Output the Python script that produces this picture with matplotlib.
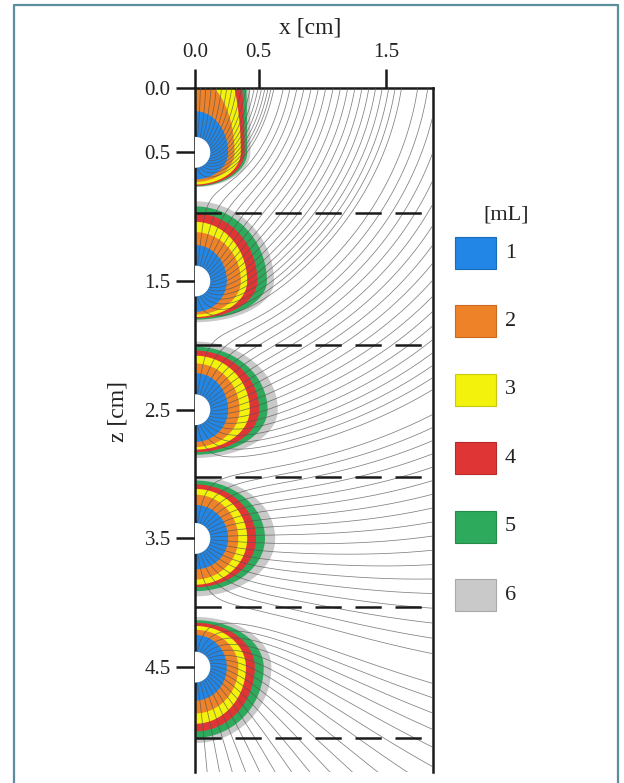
import numpy as np
import matplotlib
matplotlib.use("Agg")
import matplotlib.pyplot as plt
from matplotlib.patches import Polygon, Rectangle, Wedge

plt.rcParams["font.family"] = ["Liberation Serif", "DejaVu Serif"]

# injection points along the left wall (z, cm) and cell boundaries
source_z = [0.5, 1.5, 2.5, 3.5, 4.5]
boundary_z = [0.97, 2.0, 3.02, 4.03, 5.05]

# injected volume per front
volume_labels = ["1", "2", "3", "4", "5", "6"]
volume_colors = ["#2186e6", "#ee8228", "#f2f20c", "#e03535", "#2eaa5c", "#c9c9c9"]
volume_edges = ["#1a6cb8", "#c96a1e", "#c8c810", "#b82a2a", "#238a48", "#a8a8a8"]

# front extent [cm] per source (rows) and volume (columns)
ring_right = [
    [0.26, 0.31, 0.36, 0.39, 0.41, 0.435],
    [0.25, 0.36, 0.41, 0.49, 0.565, 0.62],
    [0.26, 0.35, 0.43, 0.505, 0.57, 0.65],
    [0.26, 0.34, 0.41, 0.48, 0.55, 0.63],
    [0.25, 0.34, 0.40, 0.47, 0.54, 0.60],
]
ring_up = [
    [0.32, 0.57, 0.98, 1.6, 3.0, 4.0],
    [0.28, 0.38, 0.46, 0.525, 0.58, 0.62],
    [0.285, 0.36, 0.42, 0.46, 0.49, 0.53],
    [0.26, 0.34, 0.385, 0.42, 0.45, 0.48],
    [0.25, 0.29, 0.32, 0.345, 0.365, 0.39],
]
ring_down = [
    [0.21, 0.23, 0.25, 0.26, 0.265, 0.27],
    [0.24, 0.26, 0.28, 0.29, 0.30, 0.32],
    [0.25, 0.29, 0.31, 0.33, 0.35, 0.375],
    [0.24, 0.32, 0.36, 0.38, 0.41, 0.45],
    [0.26, 0.36, 0.44, 0.50, 0.55, 0.59],
]

hole_r = 0.12
x_max = 1.87
z_max = 5.315
n_lines = 18
sink_depth = 0.35  # drainage plane sits this far above the surface


def velocity(x, z):
    # line sources on the wall, mirrored as sinks about the drainage plane
    u = np.zeros_like(x)
    w = np.zeros_like(z)
    for zs in source_z:
        for sign, zz in ((1.0, zs), (-1.0, -zs - 2 * sink_depth)):
            dz = z - zz
            r2 = x * x + dz * dz
            u += sign * x / r2
            w += sign * dz / r2
    return u, w


def trace(x0, z0, ds=0.004, nsteps=1800):
    x = np.array(x0, dtype=float)
    z = np.array(z0, dtype=float)
    xs, zs_ = [x.copy()], [z.copy()]
    alive = np.ones_like(x, dtype=bool)
    for _ in range(nsteps):
        u, w = velocity(x, z)
        s = np.hypot(u, w)
        xm = x + 0.5 * ds * u / s
        zm = z + 0.5 * ds * w / s
        u, w = velocity(xm, zm)
        s = np.hypot(u, w)
        x = np.where(alive, x + ds * u / s, np.nan)
        z = np.where(alive, z + ds * w / s, np.nan)
        alive &= (x < x_max + 0.05) & (z > -0.05) & (z < z_max + 0.05)
        xs.append(x.copy())
        zs_.append(z.copy())
    return np.array(xs), np.array(zs_)


def front_outline(zs, right, up, down, n=90):
    phi = np.linspace(0, np.pi / 2, n)
    xu = right * np.cos(phi[::-1])
    zu = zs - up * np.sin(phi[::-1])
    xd = right * np.cos(phi)
    zd = zs + down * np.sin(phi)
    return np.column_stack([np.r_[xu, xd[1:]], np.r_[zu, zd[1:]]])


fig = plt.figure(figsize=(6.24, 7.83), dpi=100)

# frame around the figure
frame = fig.add_axes([0, 0, 1, 1])
frame.set_xlim(0, 624)
frame.set_ylim(783, 0)
frame.axis("off")
frame.plot([14, 14, 618, 618], [790, 5, 5, 790], color="#5b8d9c", lw=1.6)

ax = fig.add_axes([195 / 624, 1 - 772 / 783, (433 - 195) / 624, (772 - 88) / 783])
ax.set_xlim(0, x_max)
ax.set_ylim(z_max, 0)

# wetting fronts, largest volume first
for i, zs in enumerate(source_z):
    for k in range(len(volume_labels) - 1, -1, -1):
        pts = front_outline(zs, ring_right[i][k], ring_up[i][k], ring_down[i][k])
        ax.add_patch(Polygon(pts, closed=True, facecolor=volume_colors[k],
                             edgecolor="none", zorder=2))

# streamlines leaving each injection point
ang = np.linspace(-np.pi / 2, np.pi / 2, n_lines + 2)[1:-1]
x0 = np.concatenate([hole_r * np.cos(ang) for _ in source_z])
z0 = np.concatenate([zs + hole_r * np.sin(ang) for zs in source_z])
X, Z = trace(x0, z0)
ax.plot(X, Z, color="#555555", lw=0.55, alpha=0.75, zorder=3)

for zs in source_z:
    ax.add_patch(Wedge((0, zs), hole_r, -90, 90, facecolor="white",
                       edgecolor="none", zorder=4))

for zb in boundary_z:
    ax.axhline(zb, color="#1a1a1a", lw=1.8, ls=(0, (10.5, 5.5)), zorder=5)

ax.xaxis.tick_top()
ax.set_xticks([0.0, 0.5, 1.5])
ax.set_xticklabels(["0.0", "0.5", "1.5"])
ax.set_yticks([0.0, 0.5, 1.5, 2.5, 3.5, 4.5])
ax.set_yticklabels(["0.0", "0.5", "1.5", "2.5", "3.5", "4.5"])
ax.tick_params(axis="both", length=13.5, width=1.8, labelsize=15,
               color="#1a1a1a", labelcolor="#222222")
ax.tick_params(axis="y", pad=4)
ax.tick_params(axis="x", pad=5)
ax.spines["bottom"].set_visible(False)
for side in ("top", "left", "right"):
    ax.spines[side].set_linewidth(1.8)
    ax.spines[side].set_color("#1a1a1a")

fig.text(310 / 624, 1 - 28 / 783, "x [cm]", fontsize=17, ha="center",
         va="center", color="#222222")
fig.text(118 / 624, 1 - 412 / 783, "z [cm]", fontsize=17, ha="center",
         va="center", rotation=90, color="#222222")

# volume legend
frame.text(506, 215, "[mL]", fontsize=16, ha="center", va="center", color="#222222")
for k, lab in enumerate(volume_labels):
    yc = 253 + k * 68.4
    frame.add_patch(Rectangle((455, yc - 16), 41, 32, facecolor=volume_colors[k],
                              edgecolor=volume_edges[k], lw=0.8))
    frame.text(505, yc, lab, fontsize=16, ha="left", va="center", color="#222222")

fig.savefig("out.png", dpi=100)
